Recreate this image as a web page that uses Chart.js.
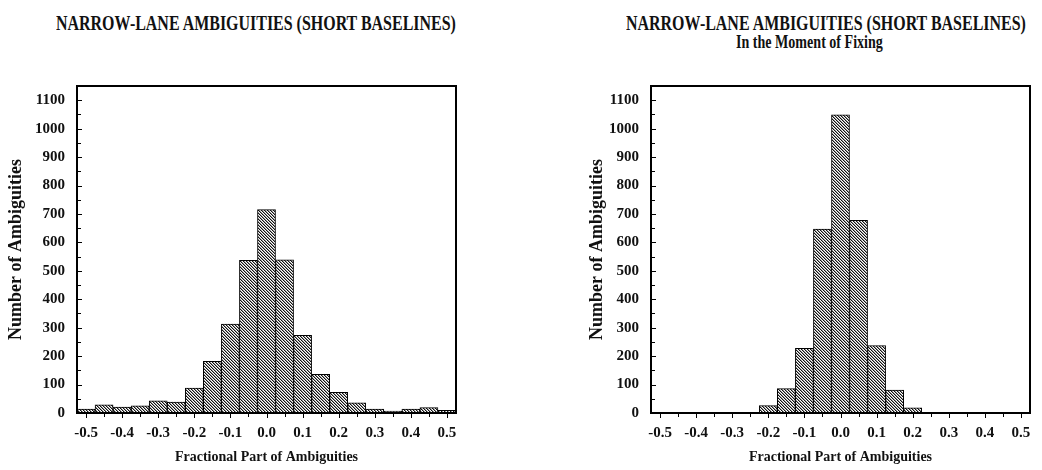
<!DOCTYPE html>
<html>
<head>
<meta charset="utf-8">
<script src="https://cdn.jsdelivr.net/npm/chart.js@4/dist/chart.umd.min.js"></script>
<style>
  body { margin: 0; background: #fff; }
  #wrap { position: relative; width: 1042px; height: 470px; overflow: hidden; }
  canvas { position: absolute; top: 0; }
  .ttl {
    position: absolute; white-space: nowrap; color: #111;
    font-family: 'Liberation Serif', 'Times New Roman', serif; font-weight: bold;
    transform-origin: 0 0;
  }
</style>
</head>
<body>
<div id="wrap">
  <div class="ttl" id="t1" style="font-size:21px;line-height:21px;top:13px;">NARROW-LANE AMBIGUITIES (SHORT BASELINES)</div>
  <div class="ttl" id="t2" style="font-size:21px;line-height:21px;top:13px;">NARROW-LANE AMBIGUITIES (SHORT BASELINES)</div>
  <div class="ttl" id="t3" style="font-size:19px;line-height:19px;top:32px;">In the Moment of Fixing</div>
  <canvas id="left" width="521" height="470" style="left:0"></canvas>
  <canvas id="right" width="521" height="470" style="left:521px"></canvas>
</div>
<script>
// bin centres of the fractional part histogram (bin width 0.05)
const binCenters = [-0.5, -0.45, -0.4, -0.35, -0.3, -0.25, -0.2, -0.15, -0.1, -0.05, 0.0,
                    0.05, 0.1, 0.15, 0.2, 0.25, 0.3, 0.35, 0.4, 0.45, 0.5];
// all narrow-lane ambiguities
const allCounts = [14, 29, 21, 25, 43, 38, 88, 182, 313, 537, 715,
                   539, 273, 136, 73, 36, 14, 7, 14, 19, 9];
// in the moment of fixing
const fixingCounts = [0, 0, 0, 0, 0, 0, 26, 86, 227, 647, 1049,
                      678, 237, 81, 18, 0, 0, 0, 0, 0, 0];

const xTickValues = [-0.5, -0.4, -0.3, -0.2, -0.1, 0.0, 0.1, 0.2, 0.3, 0.4, 0.5];
const xTickLabels = ['-0.5', '-0.4', '-0.3', '-0.2', '-0.1', '0.0', '0.1', '0.2', '0.3', '0.4', '0.5'];
const yTickValues = [0, 100, 200, 300, 400, 500, 600, 700, 800, 900, 1000, 1100];
const yTickLabels = ['0', '100', '200', '300', '400', '500', '600', '700', '800', '900', '1000', '1100'];

const FONT = "'Liberation Serif', 'Times New Roman', serif";

// place the headings, squeezed like the plot fonts
function placeTitle(id, cx, sx) {
  const el = document.getElementById(id);
  const w = el.offsetWidth;
  el.style.left = (cx - w * sx / 2) + 'px';
  el.style.transform = 'scaleX(' + sx + ')';
}
placeTitle('t1', 256, 0.76);
placeTitle('t2', 826, 0.76);
placeTitle('t3', 809, 0.74);

// diagonal hatch fill
function hatch() {
  const c = document.createElement('canvas');
  c.width = 3; c.height = 3;
  const g = c.getContext('2d');
  g.fillStyle = '#fff';
  g.fillRect(0, 0, 3, 3);
  for (let i = 0; i < 3; i++) {
    g.fillStyle = '#111';
    g.fillRect(i, i, 1, 1);
    g.fillStyle = '#999';
    g.fillRect((i + 1) % 3, i, 1, 1);
  }
  return g.createPattern(c, 'repeat');
}

// box around the plot, outward x ticks, inward y ticks
const frame = {
  id: 'frame',
  afterDraw(chart) {
    const ctx = chart.ctx;
    const a = chart.chartArea;
    const xs = chart.scales.x, ys = chart.scales.y;
    ctx.save();
    ctx.strokeStyle = '#000';
    ctx.lineWidth = 1;
    ctx.beginPath();
    for (let v = -0.5; v <= 0.5001; v += 0.05) {
      const px = Math.round(xs.getPixelForValue(v)) + 0.5;
      const major = Math.abs(Math.round(v * 100)) % 10 === 0;
      ctx.moveTo(px, a.bottom);
      ctx.lineTo(px, a.bottom + (major ? 5 : 4));
    }
    for (let v = 0; v <= 1100; v += 50) {
      const py = Math.round(ys.getPixelForValue(v)) + 0.5;
      ctx.moveTo(a.left, py);
      ctx.lineTo(a.left + (v % 100 === 0 ? 5 : 4), py);
    }
    ctx.stroke();
    ctx.lineWidth = 2;
    ctx.strokeRect(a.left, a.top, a.right - a.left, a.bottom - a.top);
    ctx.restore();
  }
};

function histogram(id, counts, pad, yWidth) {
  const ctx = document.getElementById(id).getContext('2d');
  return new Chart(ctx, {
    type: 'bar',
    data: {
      datasets: [{
        data: binCenters.map((x, i) => ({ x: x, y: counts[i] })),
        backgroundColor: hatch(),
        borderColor: '#000',
        borderWidth: 1,
        borderSkipped: false,
        barPercentage: 1,
        categoryPercentage: 1
      }]
    },
    options: {
      responsive: false,
      animation: false,
      devicePixelRatio: 1,
      layout: { padding: pad },
      plugins: { legend: { display: false }, tooltip: { enabled: false } },
      scales: {
        x: {
          type: 'linear',
          min: -0.525,
          max: 0.525,
          offset: false,
          grid: { display: false, drawTicks: false },
          border: { display: false },
          afterBuildTicks: (s) => { s.ticks = xTickValues.map(v => ({ value: v })); },
          afterFit: (s) => { s.height = 57; },
          ticks: {
            autoSkip: false,
            maxRotation: 0,
            padding: 11,
            color: '#111',
            font: { family: FONT, size: 15, weight: 'bold' },
            callback: (v, i) => xTickLabels[i]
          },
          title: {
            display: true,
            text: 'Fractional Part of Ambiguities',
            color: '#111',
            padding: { top: 0, bottom: 4 },
            font: { family: FONT, size: 14, weight: 'bold' }
          }
        },
        y: {
          min: 0,
          max: 1150,
          grid: { display: false, drawTicks: false },
          border: { display: false },
          afterBuildTicks: (s) => { s.ticks = yTickValues.map(v => ({ value: v })); },
          afterFit: (s) => { s.width = yWidth; },
          ticks: {
            padding: 12,
            color: '#111',
            font: { family: FONT, size: 15, weight: 'bold' },
            callback: (v, i) => yTickLabels[i]
          },
          title: {
            display: true,
            text: 'Number of Ambiguities',
            color: '#111',
            padding: { top: 6, bottom: 0 },
            font: { family: FONT, size: 18, weight: 'bold' }
          }
        }
      }
    },
    plugins: [frame]
  });
}

histogram('left', allCounts, { left: 0, right: 65, top: 86, bottom: 0 }, 77);
histogram('right', fixingCounts, { left: 60, right: 12, top: 86, bottom: 0 }, 70);
</script>
</body>
</html>
